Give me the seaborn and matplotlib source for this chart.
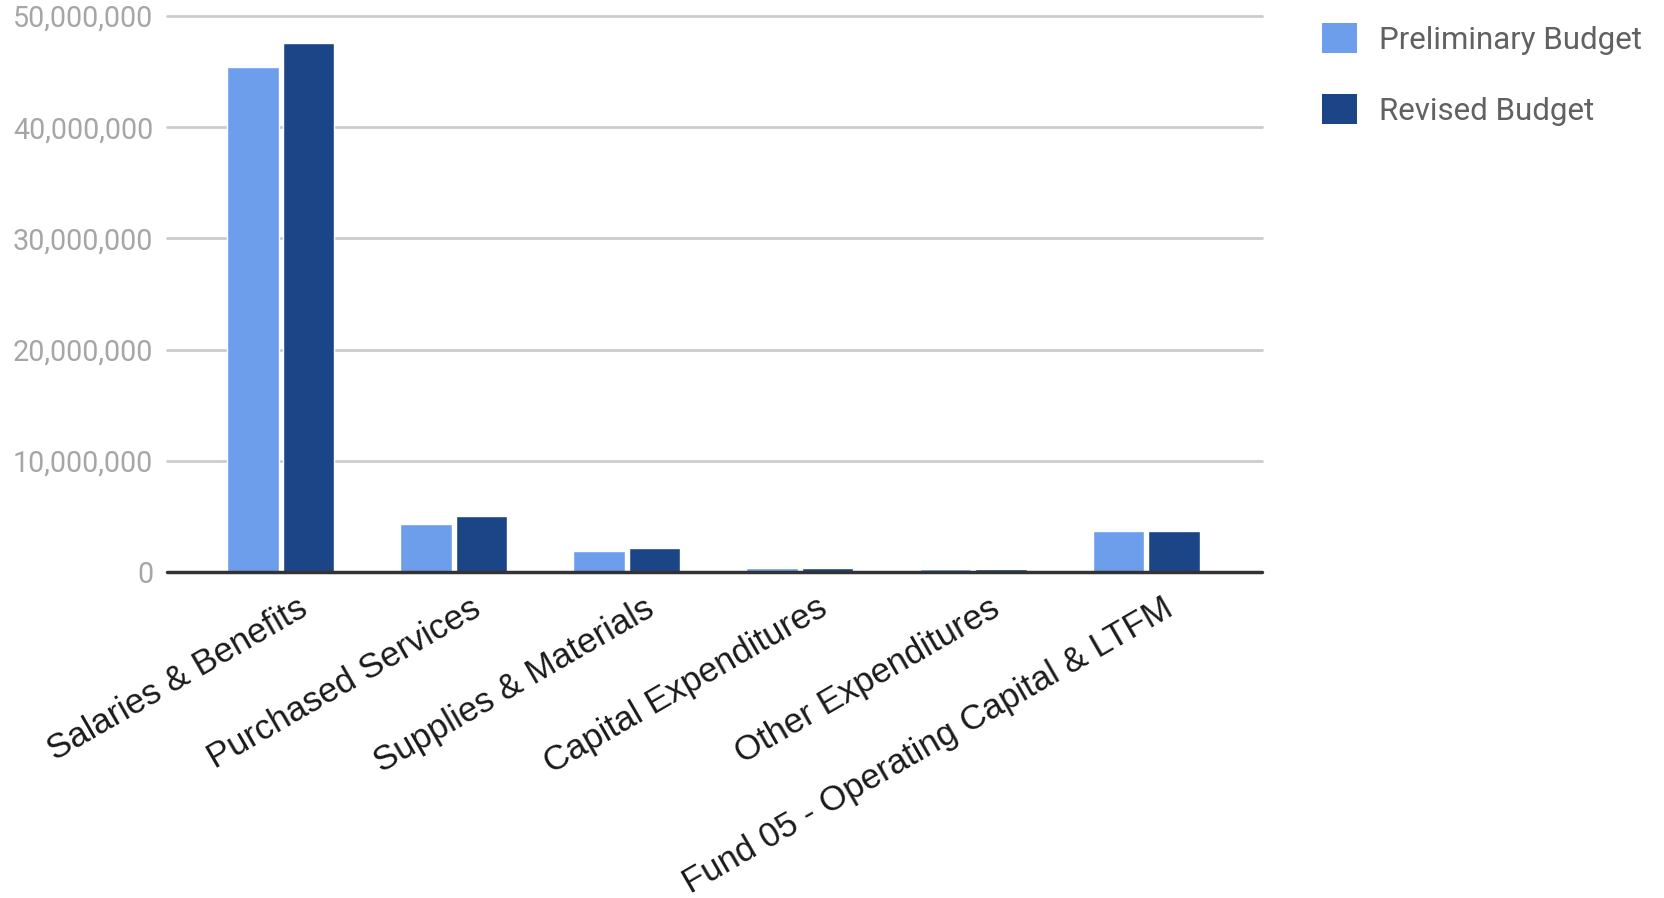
import matplotlib
matplotlib.use("Agg")
import matplotlib.pyplot as plt
import matplotlib.ticker as mticker
import matplotlib.transforms as mtransforms
from matplotlib.patches import Patch
import seaborn as sns
import pandas as pd

categories = [
    "Salaries & Benefits",
    "Purchased Services",
    "Supplies & Materials",
    "Capital Expenditures",
    "Other Expenditures",
    "Fund 05 - Operating Capital & LTFM",
]
series_names = ["Preliminary Budget", "Revised Budget"]
preliminary = [45_400_000, 4_300_000, 1_900_000, 400_000, 250_000, 3_700_000]
revised = [47_600_000, 5_050_000, 2_150_000, 380_000, 250_000, 3_700_000]
colors = ["#6d9eeb", "#1c4587"]
y_ticks = [0, 10_000_000, 20_000_000, 30_000_000, 40_000_000, 50_000_000]

df = pd.DataFrame({
    "category": categories * 2,
    "series": [series_names[0]] * len(categories) + [series_names[1]] * len(categories),
    "value": preliminary + revised,
})

sns.set_theme(style="white")
plt.rcParams["font.family"] = ["Roboto", "DejaVu Sans"]

fig = plt.figure(figsize=(16.65, 8.98), dpi=100)
ax = fig.add_axes([167 / 1665, 1 - 572 / 898, (1262 - 167) / 1665, (572 - 16) / 898])

sns.barplot(
    data=df, x="category", y="value", hue="series",
    order=categories, hue_order=series_names, palette=colors,
    width=0.64, gap=0.07, ax=ax, legend=False, saturation=1,
    errorbar=None,
)

ax.set_xlim(-0.656, 5.669)
ax.set_ylim(0, 50_000_000)
ax.set_yticks(y_ticks)
ax.yaxis.set_major_formatter(mticker.FuncFormatter(lambda v, p: f"{int(v):,}"))
for y in y_ticks[1:]:
    ax.axhline(y, color="#cccccc", lw=2, zorder=0, clip_on=False)
ax.axhline(0, color="#333333", lw=2.5, zorder=3, clip_on=False)

for s in ax.spines.values():
    s.set_visible(False)
ax.set_xlabel("")
ax.set_ylabel("")
ax.tick_params(axis="y", length=0, pad=10, labelsize=20.7, labelcolor="#a6a6a6")
ax.tick_params(axis="x", length=0, pad=14)
ax.set_xticks(range(len(categories)))
ax.set_xticklabels(categories, rotation=30, ha="right", rotation_mode="anchor",
                   fontsize=25, color="#1a1a1a", family=["Liberation Sans", "DejaVu Sans"])
offset = mtransforms.ScaledTranslation(16 / 100, 0, fig.dpi_scale_trans)
for lbl in ax.get_xticklabels():
    lbl.set_transform(lbl.get_transform() + offset)
ax.grid(False)

handles = [Patch(facecolor=c, edgecolor="none") for c in colors]
leg = fig.legend(handles, series_names, loc="upper left",
                 bbox_to_anchor=(1322 / 1665, 1 - 23 / 898), frameon=False,
                 fontsize=22.5, handlelength=1.12, handleheight=1.12,
                 handletextpad=0.7, labelspacing=1.25, borderpad=0, borderaxespad=0)
for t in leg.get_texts():
    t.set_color("#616161")

fig.savefig("out.png", dpi=100)
